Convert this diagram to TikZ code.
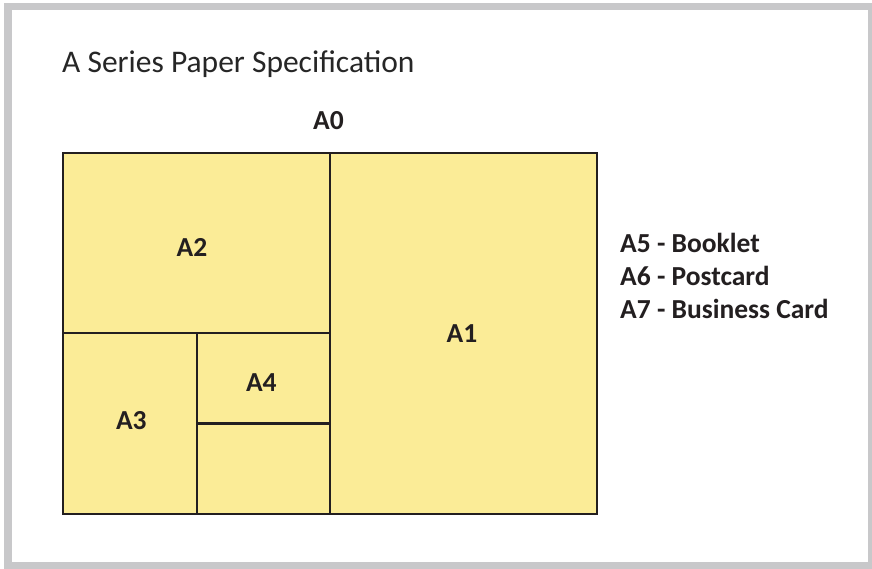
\documentclass[tikz,border=0pt]{standalone}
\usepackage{fontspec}
\setmainfont{Carlito}
\definecolor{framegray}{HTML}{C8C8CA}
\definecolor{paper}{HTML}{FBEC97}
\definecolor{ink}{HTML}{231F20}
\definecolor{titleink}{HTML}{262626}
\begin{document}
\begin{tikzpicture}[x=1pt,y=-1pt,
  sheet/.style={fill=paper,draw=ink,line width=2.8pt},
  divider/.style={draw=ink,line width=2.8pt},
  lbl/.style={font=\fontsize{27.5}{32}\selectfont\bfseries,text=ink,inner sep=0pt,anchor=base},
  note/.style={font=\fontsize{27.5}{32}\selectfont\bfseries,text=ink,inner sep=0pt,anchor=base west},
  ttl/.style={font=\fontsize{31.5}{36}\selectfont,text=titleink,inner sep=0pt,anchor=base west}]
\useasboundingbox (0,0) rectangle (872,569);
\fill[framegray] (4,3) rectangle (872,569);
\fill[white] (12,10) rectangle (868,562);
\node[ttl] (title) at (62,73) {A Series Paper Specification};
\node[lbl] (a0) at (328.5,129.5) {A0};
\path[sheet] (63,153) rectangle (597,514);
\draw[divider] (330,153) -- (330,514);
\draw[divider] (63,333) -- (330,333);
\draw[divider] (197,333) -- (197,514);
\draw[divider] (197,423.5) -- (330,423.5);
\node[lbl] (a1) at (462,342) {A1};
\node[lbl] (a2) at (192,257) {A2};
\node[lbl] (a3) at (131.3,429.3) {A3};
\node[lbl] (a4) at (261.3,391.7) {A4};
\node[note] (a5) at (620,252) {A5 - Booklet};
\node[note] (a6) at (620,285.3) {A6 - Postcard};
\node[note] (a7) at (620,318.3) {A7 - Business Card};
\end{tikzpicture}
\end{document}
